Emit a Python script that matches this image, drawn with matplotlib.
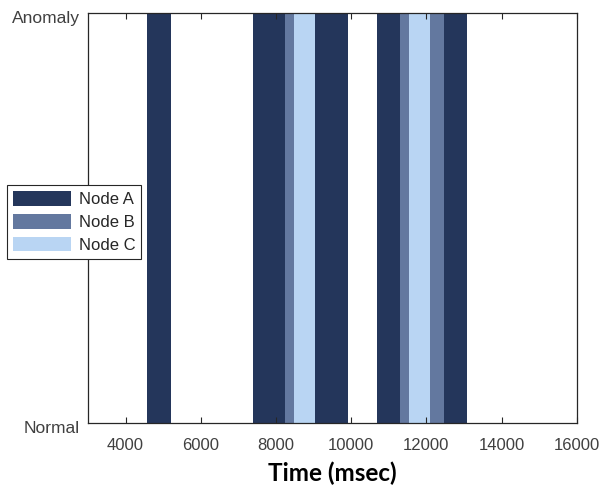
import matplotlib
matplotlib.use("Agg")
import matplotlib.pyplot as plt
from matplotlib.transforms import ScaledTranslation

# -------------------------------
# Data (anomaly intervals in msec)
# -------------------------------
node_names = ["Node A", "Node B", "Node C"]
node_colors = ["#24365B", "#63789F", "#B9D5F3"]

node_a_start = [4570, 7380, 9030, 10690, 12470]
node_a_end = [5200, 8240, 9910, 11300, 13090]

node_b_start = [8240, 11300, 12100]
node_b_end = [8480, 11550, 12470]

node_c_start = [8480, 11550]
node_c_end = [9030, 12100]

x_ticks = [4000, 6000, 8000, 10000, 12000, 14000, 16000]
y_ticks = [0, 1]
y_tick_labels = ["Normal", "Anomaly"]

# -------------------------------
# Figure
# -------------------------------
plt.rcParams["font.family"] = ["Liberation Sans", "DejaVu Sans"]

fig = plt.figure(figsize=(6.02, 4.87), dpi=100)
ax = fig.add_axes([0.1462, 0.1314, 0.8118, 0.8419])

starts = [node_a_start, node_b_start, node_c_start]
ends = [node_a_end, node_b_end, node_c_end]

for name, color, s, e in zip(node_names, node_colors, starts, ends):
    widths = [b - a for a, b in zip(s, e)]
    ax.bar(s, [1] * len(s), width=widths, align="edge", bottom=0,
           color=color, label=name, linewidth=0)

ax.set_xlim(3000, 16000)
ax.set_ylim(0, 1)
ax.set_xticks(x_ticks)
ax.set_xticklabels([str(t) for t in x_ticks])
ax.set_yticks(y_ticks)
ax.set_yticklabels(y_tick_labels)

ax.tick_params(axis="x", direction="in", top=True, length=4, width=0.8,
               colors="#262626", labelsize=12, labelcolor="#404040", pad=11)
ax.tick_params(axis="y", direction="in", length=0, labelsize=12.5,
               labelcolor="#404040", pad=6)

# nudge y labels down a few pixels
shift = ScaledTranslation(0, -4 / 100, fig.dpi_scale_trans)
for lbl in ax.get_yticklabels():
    lbl.set_transform(lbl.get_transform() + shift)

for sp in ax.spines.values():
    sp.set_color("#262626")
    sp.set_linewidth(0.9)
    sp.set_zorder(5)

ax.set_xlabel("Time (msec)", fontsize=17.5, fontweight="bold",
              family=["Lato", "DejaVu Sans"], color="black", labelpad=6)

leg = ax.legend(loc="upper left", bbox_to_anchor=(7 / 602, 1 - 185 / 487),
                bbox_transform=fig.transFigure, borderaxespad=0,
                fancybox=False, framealpha=1, edgecolor="#262626",
                fontsize=12, handlelength=3.5, handleheight=1.0,
                labelspacing=0.4, handletextpad=0.45, borderpad=0.35)
leg.get_frame().set_linewidth(0.8)
for t in leg.get_texts():
    t.set_color("#262626")

plt.savefig("out.png", dpi=100)
